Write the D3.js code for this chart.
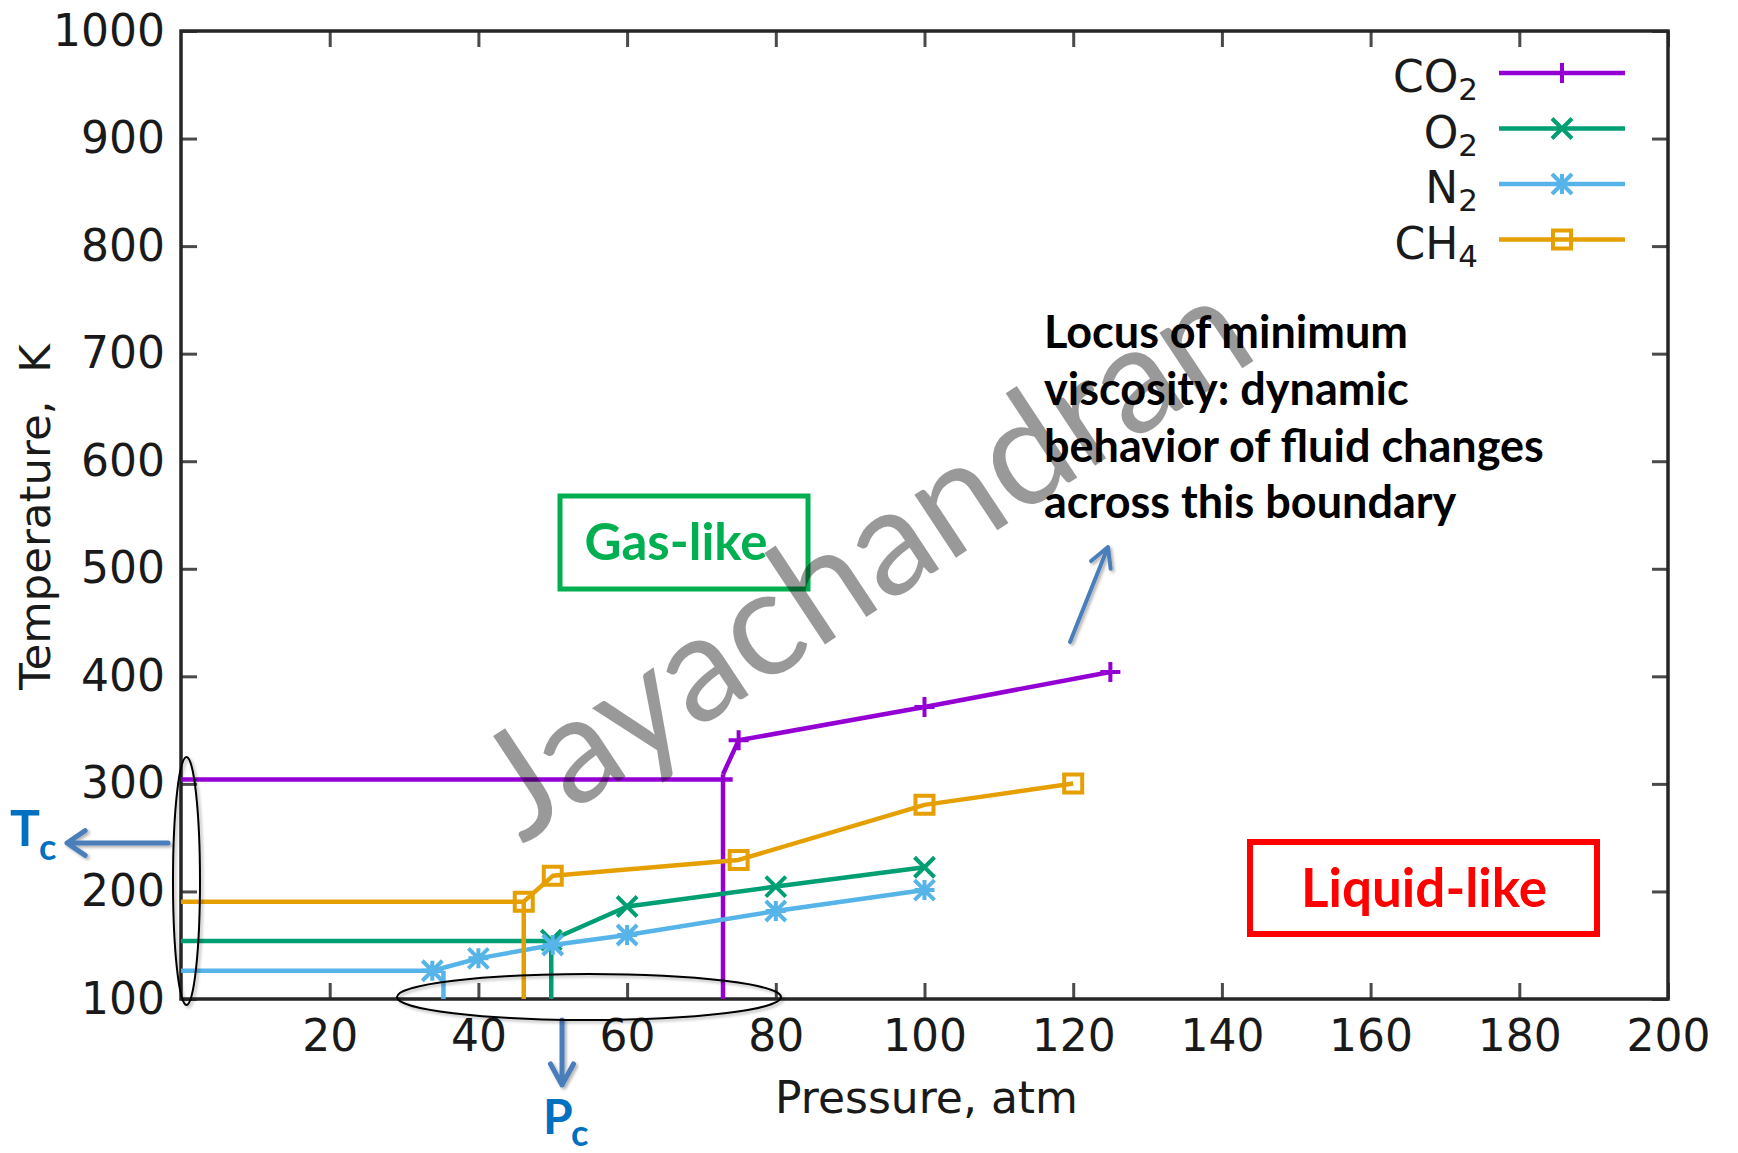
<!DOCTYPE html>
<html>
<head>
<meta charset="utf-8">
<script src="https://cdn.jsdelivr.net/npm/d3@7"></script>
<style>
  html, body { margin: 0; padding: 0; background: #fff; }
  svg { display: block; }
</style>
</head>
<body>
<svg id="chart" width="1738" height="1153"></svg>
<script>
// ---- data -------------------------------------------------------------
const species    = ["CO", "O", "N", "CH"];
const subscripts = ["2", "2", "2", "4"];
const colors     = ["#9400d3", "#009e73", "#56b4e9", "#e69f00"];
const symbols    = ["plus", "cross", "star", "square"];

// critical temperature (K) and pressure (atm) of each fluid
const criticalT = [304, 154, 126.3, 190.5];
const criticalP = [72.9, 49.8, 35.3, 46.1];
// extent of the Tc (horizontal) and Pc (vertical) guide lines
const tcLineEnd = [74.2, 49.8, 33.8, 46.1];
const pcLineTop = [309, 154, 126.3, 190.5];

// locus of minimum viscosity (pressure, temperature)
const locusP = [
  [75, 100, 125],
  [49.8, 60, 80, 100],
  [33.8, 40, 50, 60, 80, 100],
  [46.1, 50, 75, 100, 120]
];
const locusT = [
  [340.5, 371.5, 404],
  [154.8, 186, 204.5, 222.5],
  [126.3, 137.8, 150.2, 159.5, 181.8, 201.3],
  [190.5, 214.5, 229.3, 280.5, 300.3]
];

const xTicks = [20, 40, 60, 80, 100, 120, 140, 160, 180, 200];
const yTicks = [100, 200, 300, 400, 500, 600, 700, 800, 900, 1000];

// ---- layout -----------------------------------------------------------
const plot = { left: 181, right: 1668, top: 31, bottom: 999 };
const svg = d3.select("#chart");

const x = d3.scaleLinear().domain([0, 200]).range([plot.left, plot.right]);
const y = d3.scaleLinear().domain([100, 1000]).range([plot.bottom, plot.top]);

const defs = svg.append("defs");
defs.append("filter").attr("id", "shadow")
  .attr("x", "-20%").attr("y", "-20%").attr("width", "140%").attr("height", "140%")
  .append("feDropShadow")
  .attr("dx", 2).attr("dy", 2).attr("stdDeviation", 1.6)
  .attr("flood-color", "#000").attr("flood-opacity", 0.3);

const tickFont = "DejaVu Sans";
const fmt = d3.format("d");

// ---- axes -------------------------------------------------------------
const tickLen = 16;
const gx = svg.append("g").attr("transform", `translate(0,${plot.bottom})`)
  .call(d3.axisBottom(x).tickValues(xTicks).tickFormat(fmt)
    .tickSizeInner(-tickLen).tickSizeOuter(0).tickPadding(21));
const gy = svg.append("g").attr("transform", `translate(${plot.left},0)`)
  .call(d3.axisLeft(y).tickValues(yTicks).tickFormat(fmt)
    .tickSizeInner(-tickLen).tickSizeOuter(0).tickPadding(16));
const gt = svg.append("g").attr("transform", `translate(0,${plot.top})`)
  .call(d3.axisTop(x).tickValues(xTicks).tickSizeInner(-tickLen).tickSizeOuter(0).tickFormat(""));
const gr = svg.append("g").attr("transform", `translate(${plot.right},0)`)
  .call(d3.axisRight(y).tickValues(yTicks).tickSizeInner(-tickLen).tickSizeOuter(0).tickFormat(""));

[gx, gy, gt, gr].forEach(g => {
  g.select(".domain").remove();
  g.selectAll(".tick line").attr("stroke", "#4a4a4a").attr("stroke-width", 3);
  g.selectAll(".tick text").attr("font-family", tickFont).attr("font-size", 44).attr("fill", "#1a1a1a");
});

// plot frame
svg.append("rect")
  .attr("x", plot.left).attr("y", plot.top)
  .attr("width", plot.right - plot.left).attr("height", plot.bottom - plot.top)
  .attr("fill", "none").attr("stroke", "#262626").attr("stroke-width", 3.5);

// axis titles
svg.append("text")
  .attr("x", (x(0) + x(200)) / 2 + 2).attr("y", 1113)
  .attr("text-anchor", "middle")
  .attr("font-family", tickFont).attr("font-size", 44).attr("fill", "#1a1a1a")
  .text("Pressure, atm");

svg.append("text")
  .attr("transform", "translate(50,517) rotate(-90)")
  .attr("text-anchor", "middle")
  .style("white-space", "pre")
  .attr("font-family", tickFont).attr("font-size", 43.5).attr("fill", "#1a1a1a")
  .text("Temperature,  K");

// ---- marker shapes ----------------------------------------------------
function markerPath(type, s) {
  const plus = `M${-s},0H${s}M0,${-s}V${s}`;
  const cross = `M${-s},${-s}L${s},${s}M${-s},${s}L${s},${-s}`;
  if (type === "plus") return plus;
  if (type === "cross") return cross;
  if (type === "star") return plus + cross;
  return `M${-s},${-s}H${s}V${s}H${-s}Z`;
}

// ---- series -----------------------------------------------------------
const line = d3.line().x(d => x(d[0])).y(d => y(d[1]));
const seriesG = svg.append("g");
const lw = 4.5;

species.forEach((name, i) => {
  const g = seriesG.append("g");
  const c = colors[i];
  // critical temperature guide
  g.append("path")
    .attr("d", line([[0, criticalT[i]], [tcLineEnd[i], criticalT[i]]]))
    .attr("fill", "none").attr("stroke", c).attr("stroke-width", lw);
  // critical pressure guide
  g.append("path")
    .attr("d", line([[criticalP[i], 100], [criticalP[i], pcLineTop[i]]]))
    .attr("fill", "none").attr("stroke", c).attr("stroke-width", lw);
  // locus curve
  const pts = locusP[i].map((p, k) => [p, locusT[i][k]]);
  g.append("path")
    .attr("d", line([[criticalP[i], pcLineTop[i]], ...pts]))
    .attr("fill", "none").attr("stroke", c).attr("stroke-width", lw)
    .attr("stroke-linejoin", "round");
  g.selectAll(".pt").data(pts).join("path")
    .attr("transform", d => `translate(${x(d[0])},${y(d[1])})`)
    .attr("d", markerPath(symbols[i], symbols[i] === "square" ? 9 : 10))
    .attr("fill", "none").attr("stroke", c).attr("stroke-width", 4);
});

// ---- legend -----------------------------------------------------------
const legend = svg.append("g");
species.forEach((name, i) => {
  const ly = 73 + i * 55.5;
  const t = legend.append("text")
    .attr("x", 1478).attr("y", ly + 19)
    .attr("text-anchor", "end")
    .attr("font-family", tickFont).attr("font-size", 44).attr("fill", "#1a1a1a");
  t.append("tspan").text(name);
  t.append("tspan").attr("dy", 8).attr("font-size", 31).text(subscripts[i]);
  legend.append("line")
    .attr("x1", 1499).attr("x2", 1625).attr("y1", ly).attr("y2", ly)
    .attr("stroke", colors[i]).attr("stroke-width", lw);
  legend.append("path")
    .attr("transform", `translate(1562,${ly})`)
    .attr("d", markerPath(symbols[i], symbols[i] === "square" ? 9 : 10))
    .attr("fill", "none").attr("stroke", colors[i]).attr("stroke-width", 4);
});

// ---- annotations --------------------------------------------------------
const annFont = "Lato";

// region boxes
svg.append("rect").attr("x", 560).attr("y", 496).attr("width", 248).attr("height", 93)
  .attr("fill", "none").attr("stroke", "#00b050").attr("stroke-width", 5);
svg.append("text").attr("x", 676).attr("y", 560).attr("text-anchor", "middle")
  .attr("font-family", annFont).attr("font-weight", 700).attr("font-size", 51)
  .attr("fill", "#00b050").text("Gas-like");

svg.append("rect").attr("x", 1250).attr("y", 842).attr("width", 347).attr("height", 92)
  .attr("fill", "none").attr("stroke", "#ff0000").attr("stroke-width", 6);
svg.append("text").attr("x", 1424).attr("y", 907).attr("text-anchor", "middle")
  .attr("font-family", annFont).attr("font-weight", 700).attr("font-size", 53)
  .attr("fill", "#ff0000").text("Liquid-like");

// locus note
const note = ["Locus of minimum", "viscosity: dynamic", "behavior of fluid changes", "across this boundary"];
svg.append("g").selectAll("text").data(note).join("text")
  .attr("x", 1044).attr("y", (d, k) => 348 + k * 56.8)
  .attr("font-family", annFont).attr("font-weight", 700).attr("font-size", 45)
  .attr("fill", "#000").text(d => d);

// arrows
function arrow(x1, y1, x2, y2, len, ang, w) {
  const a = Math.atan2(y2 - y1, x2 - x1);
  const p1 = [x2 - len * Math.cos(a - ang), y2 - len * Math.sin(a - ang)];
  const p2 = [x2 - len * Math.cos(a + ang), y2 - len * Math.sin(a + ang)];
  svg.append("path")
    .attr("d", `M${x1},${y1}L${x2},${y2}M${p1[0]},${p1[1]}L${x2},${y2}L${p2[0]},${p2[1]}`)
    .attr("fill", "none").attr("stroke", "#4a7ebb").attr("stroke-width", w)
    .attr("stroke-linecap", "round").attr("stroke-linejoin", "round")
    .attr("filter", "url(#shadow)");
}
arrow(1070, 642, 1108, 547, 22, 0.5, 4);
arrow(168, 843, 67, 843, 22, 0.6, 5);
arrow(562, 1020, 562, 1085, 24, 0.5, 5);

// ellipses around the critical values
svg.append("ellipse").attr("cx", 186.5).attr("cy", 881).attr("rx", 13.5).attr("ry", 124)
  .attr("fill", "none").attr("stroke", "#000").attr("stroke-width", 2).attr("filter", "url(#shadow)");
svg.append("ellipse").attr("cx", 589).attr("cy", 997).attr("rx", 192).attr("ry", 23)
  .attr("fill", "none").attr("stroke", "#000").attr("stroke-width", 2).attr("filter", "url(#shadow)");

// Tc / Pc labels
const tc = svg.append("text").attr("x", 10).attr("y", 846)
  .attr("font-family", annFont).attr("font-weight", 700).attr("font-size", 50).attr("fill", "#0070c0");
tc.append("tspan").text("T");
tc.append("tspan").attr("x", 39).attr("y", 860).attr("font-size", 36).text("c");

const pc = svg.append("text").attr("x", 543).attr("y", 1134)
  .attr("font-family", annFont).attr("font-weight", 700).attr("font-size", 48).attr("fill", "#0070c0");
pc.append("tspan").text("P");
pc.append("tspan").attr("x", 571).attr("y", 1146).attr("font-size", 36).text("c");

// watermark
svg.append("text")
  .attr("transform", "translate(522,845) rotate(-33.5)")
  .attr("font-family", annFont).attr("font-size", 149)
  .attr("fill", "#000").attr("fill-opacity", 0.4)
  .text("Jayachandran");
</script>
</body>
</html>
